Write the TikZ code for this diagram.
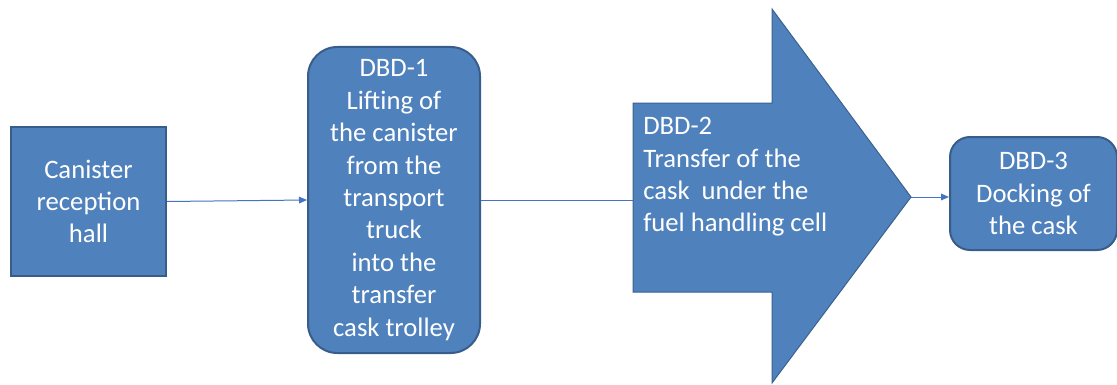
\documentclass[tikz,border=0pt]{standalone}
\usepackage{fontspec}
\setmainfont{Carlito}
\usetikzlibrary{positioning, arrows.meta, calc}
\definecolor{boxblue}{RGB}{79, 129, 189}
\definecolor{edgeblue}{RGB}{56, 93, 138}
\definecolor{lineblue}{RGB}{68, 114, 196}

\begin{document}
\begin{tikzpicture}[
    x=0.75pt, y=-0.75pt, % one unit per pixel of the layout, y pointing down
    >={Triangle[length=6pt, width=5pt]}, % Arrow tip style
    stage/.style={ % Style for the stage boxes
        rectangle,
        draw=edgeblue,
        line width=1.5pt,
        fill=boxblue,
        text=white,
        align=center,
        font=\fontsize{20}{24.3}\selectfont,
        inner sep=2pt
    },
    % Rounded variant, takes the corner radius as argument
    roundstage/.style={stage, rounded corners=#1},
    roundstage/.default=22pt,
    % Connector styles
    flow/.style={->, line width=0.75pt, draw=lineblue},
    plainflow/.style={line width=0.75pt, draw=lineblue},
    % Text inside the big arrow
    arrow_text/.style={
        text=white,
        align=left,
        inner sep=0pt,
        font=\fontsize{20}{24.3}\selectfont
    }
]
\useasboundingbox (0,0) rectangle (1117,385);

% Stage boxes
\node[stage, minimum width=116.25pt, minimum height=111.75pt] (reception) at (88.5,201.5) {Canister\\reception\\hall};
\node[roundstage, minimum width=129pt, minimum height=229.5pt] (dbd1) at (394,200) {DBD-1\\Lifting of\\the canister\\from the\\transport\\truck\\into the\\transfer\\cask trolley};
\node[roundstage=15pt, minimum width=125.25pt, minimum height=84.75pt] (dbd3) at (1033.5,193.5) {DBD-3\\Docking of\\the cask};

% Big block arrow for DBD-2
\fill[boxblue, draw=edgeblue!90!boxblue, line width=0.75pt]
    (633,103) -- (772,103) -- (772,9) -- (911,197) -- (772,383) -- (772,292) -- (633,292) -- cycle;
\coordinate (dbd2in) at (633,200);
\coordinate (dbd2tip) at (911,197);
\node[arrow_text, anchor=west] (dbd2) at (643,177) {DBD-2\\Transfer of the\\cask\ \ under the\\fuel handling cell};

% Connectors
\draw[flow] (reception.east) -- (dbd1.west);
\draw[plainflow] (dbd1.east) -- (dbd2in);
\draw[flow] (dbd2tip) -- (dbd2tip -| dbd3.west);

\end{tikzpicture}
\end{document}
